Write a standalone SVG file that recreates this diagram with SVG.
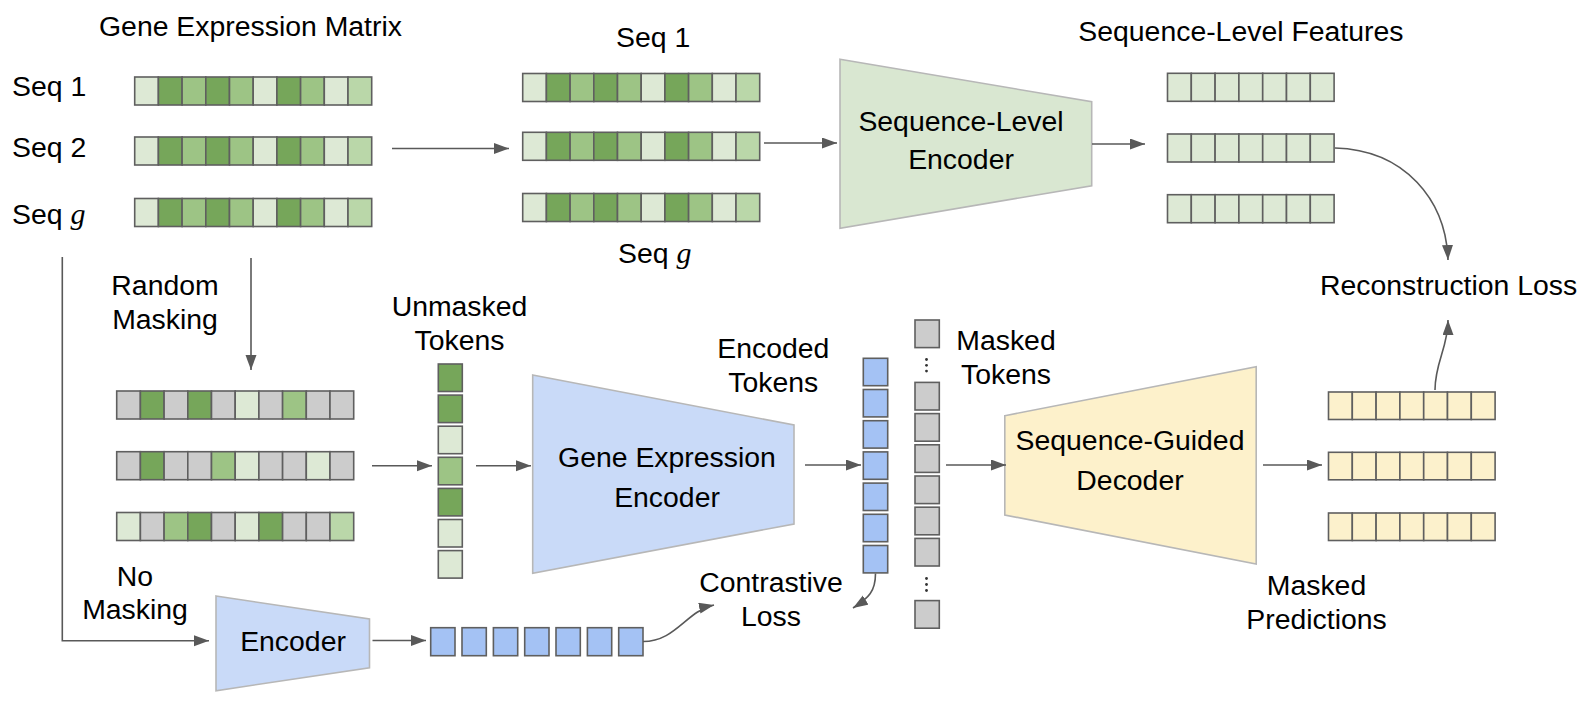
<svg xmlns="http://www.w3.org/2000/svg" width="1592" height="706" viewBox="0 0 1592 706">
<style>
text{font-family:"Liberation Sans",Arial,sans-serif;font-size:28.4px;fill:#000}
.m{text-anchor:middle}
.it{font-family:"Liberation Serif","Times New Roman",serif;font-style:italic;font-size:30px}
.cell rect{stroke:#5f5f5f;stroke-width:1.6}
.L{fill:#dde9d5}.M{fill:#9dc485}.D{fill:#76a65a}.X{fill:#bad7a9}.G{fill:#cccccc}.B{fill:#a4c2f4}.Y{fill:#fcf1cc}.F{fill:#dde9d5}
.trap{stroke:#b7b7b7;stroke-width:1.6}
.con{fill:none;stroke:#595959;stroke-width:1.6}
.dot{fill:#333}
</style>
<defs>
<marker id="ah" markerUnits="userSpaceOnUse" markerWidth="16" markerHeight="12" refX="15" refY="5.5" orient="auto">
<path d="M0,0 L15,5.5 L0,11 z" fill="#595959"/>
</marker>
<g id="row10" class="cell">
<rect class="L" x="0" y="0" width="23.7" height="28"/><rect class="D" x="23.7" y="0" width="23.7" height="28"/><rect class="M" x="47.4" y="0" width="23.7" height="28"/><rect class="D" x="71.1" y="0" width="23.7" height="28"/><rect class="M" x="94.8" y="0" width="23.7" height="28"/><rect class="L" x="118.5" y="0" width="23.7" height="28"/><rect class="D" x="142.2" y="0" width="23.7" height="28"/><rect class="M" x="165.9" y="0" width="23.7" height="28"/><rect class="L" x="189.6" y="0" width="23.7" height="28"/><rect class="X" x="213.3" y="0" width="23.7" height="28"/>
</g>
<g id="featrow" class="cell">
<rect class="F" x="0" y="0" width="23.8" height="28"/><rect class="F" x="23.8" y="0" width="23.8" height="28"/><rect class="F" x="47.6" y="0" width="23.8" height="28"/><rect class="F" x="71.4" y="0" width="23.8" height="28"/><rect class="F" x="95.2" y="0" width="23.8" height="28"/><rect class="F" x="119" y="0" width="23.8" height="28"/><rect class="F" x="142.8" y="0" width="23.8" height="28"/>
</g>
<g id="predrow" class="cell">
<rect class="Y" x="0" y="0" width="23.8" height="27.5"/><rect class="Y" x="23.8" y="0" width="23.8" height="27.5"/><rect class="Y" x="47.6" y="0" width="23.8" height="27.5"/><rect class="Y" x="71.4" y="0" width="23.8" height="27.5"/><rect class="Y" x="95.2" y="0" width="23.8" height="27.5"/><rect class="Y" x="119" y="0" width="23.8" height="27.5"/><rect class="Y" x="142.8" y="0" width="23.8" height="27.5"/>
</g>
</defs>

<g id="gene-matrix">
<text x="250.5" y="36" class="m">Gene Expression Matrix</text>
<text x="12" y="96">Seq 1</text>
<text x="12" y="157">Seq 2</text>
<text x="12" y="224">Seq <tspan class="it">g</tspan></text>
<use href="#row10" x="134.7" y="77"/>
<use href="#row10" x="134.7" y="137"/>
<use href="#row10" x="134.7" y="198.5"/>
</g>

<g id="seq-matrix">
<text x="616" y="47">Seq 1</text>
<use href="#row10" x="522.7" y="73.5"/>
<use href="#row10" x="522.7" y="132.3"/>
<use href="#row10" x="522.7" y="193.5"/>
<text x="618" y="263">Seq <tspan class="it">g</tspan></text>
</g>

<g id="seq-level-encoder">
<polygon class="trap" points="840,59.3 1091.7,101.7 1091.7,185.7 840,228.3" fill="#d9e7d1"/>
<text x="961" y="130.7" class="m">Sequence-Level</text>
<text x="961" y="169" class="m">Encoder</text>
</g>

<g id="seq-features">
<text x="1078.3" y="41">Sequence-Level Features</text>
<use href="#featrow" x="1167.5" y="73.3"/>
<use href="#featrow" x="1167.5" y="134"/>
<use href="#featrow" x="1167.5" y="194.7"/>
</g>

<g id="reconstruction-loss">
<text x="1320" y="295">Reconstruction Loss</text>
</g>

<g id="random-masking">
<text x="165" y="295" class="m">Random</text>
<text x="165" y="329" class="m">Masking</text>
</g>

<g id="masked-matrix" class="cell">
<rect class="G" x="116.7" y="391" width="23.7" height="28"/><rect class="D" x="140.4" y="391" width="23.7" height="28"/><rect class="G" x="164.1" y="391" width="23.7" height="28"/><rect class="D" x="187.8" y="391" width="23.7" height="28"/><rect class="G" x="211.5" y="391" width="23.7" height="28"/><rect class="L" x="235.2" y="391" width="23.7" height="28"/><rect class="G" x="258.9" y="391" width="23.7" height="28"/><rect class="M" x="282.6" y="391" width="23.7" height="28"/><rect class="G" x="306.3" y="391" width="23.7" height="28"/><rect class="G" x="330" y="391" width="23.7" height="28"/>
<rect class="G" x="116.7" y="451.7" width="23.7" height="28"/><rect class="D" x="140.4" y="451.7" width="23.7" height="28"/><rect class="G" x="164.1" y="451.7" width="23.7" height="28"/><rect class="G" x="187.8" y="451.7" width="23.7" height="28"/><rect class="M" x="211.5" y="451.7" width="23.7" height="28"/><rect class="L" x="235.2" y="451.7" width="23.7" height="28"/><rect class="G" x="258.9" y="451.7" width="23.7" height="28"/><rect class="G" x="282.6" y="451.7" width="23.7" height="28"/><rect class="L" x="306.3" y="451.7" width="23.7" height="28"/><rect class="G" x="330" y="451.7" width="23.7" height="28"/>
<rect class="L" x="116.7" y="512.5" width="23.7" height="28"/><rect class="G" x="140.4" y="512.5" width="23.7" height="28"/><rect class="M" x="164.1" y="512.5" width="23.7" height="28"/><rect class="D" x="187.8" y="512.5" width="23.7" height="28"/><rect class="G" x="211.5" y="512.5" width="23.7" height="28"/><rect class="L" x="235.2" y="512.5" width="23.7" height="28"/><rect class="D" x="258.9" y="512.5" width="23.7" height="28"/><rect class="G" x="282.6" y="512.5" width="23.7" height="28"/><rect class="G" x="306.3" y="512.5" width="23.7" height="28"/><rect class="X" x="330" y="512.5" width="23.7" height="28"/>
</g>

<g id="unmasked-tokens">
<text x="459.5" y="316" class="m">Unmasked</text>
<text x="459.5" y="350" class="m">Tokens</text>
<g class="cell">
<rect class="D" x="438.3" y="364" width="24" height="27.5"/>
<rect class="D" x="438.3" y="395.1" width="24" height="27.5"/>
<rect class="L" x="438.3" y="426.2" width="24" height="27.5"/>
<rect class="M" x="438.3" y="457.3" width="24" height="27.5"/>
<rect class="D" x="438.3" y="488.4" width="24" height="27.5"/>
<rect class="L" x="438.3" y="519.5" width="24" height="27.5"/>
<rect class="L" x="438.3" y="550.6" width="24" height="27.5"/>
</g>
</g>

<g id="gene-expression-encoder">
<polygon class="trap" points="532.7,375 794,425 794,524 532.7,573.3" fill="#c9daf8"/>
<text x="667" y="467.3" class="m">Gene Expression</text>
<text x="667" y="506.7" class="m">Encoder</text>
</g>

<g id="encoded-tokens">
<text x="773.3" y="357.7" class="m">Encoded</text>
<text x="773.3" y="391.7" class="m">Tokens</text>
<g class="cell">
<rect class="B" x="863.3" y="358.3" width="24.4" height="27.4"/>
<rect class="B" x="863.3" y="389.5" width="24.4" height="27.4"/>
<rect class="B" x="863.3" y="420.7" width="24.4" height="27.4"/>
<rect class="B" x="863.3" y="451.9" width="24.4" height="27.4"/>
<rect class="B" x="863.3" y="483.1" width="24.4" height="27.4"/>
<rect class="B" x="863.3" y="514.3" width="24.4" height="27.4"/>
<rect class="B" x="863.3" y="545.5" width="24.4" height="27.4"/>
</g>
</g>

<g id="masked-tokens">
<text x="1006" y="350" class="m">Masked</text>
<text x="1006" y="383.5" class="m">Tokens</text>
<g class="cell">
<rect class="G" x="915" y="320" width="24.3" height="27.6"/>
<rect class="G" x="915" y="382.4" width="24.3" height="27.6"/>
<rect class="G" x="915" y="413.6" width="24.3" height="27.6"/>
<rect class="G" x="915" y="444.8" width="24.3" height="27.6"/>
<rect class="G" x="915" y="476" width="24.3" height="27.6"/>
<rect class="G" x="915" y="507.2" width="24.3" height="27.6"/>
<rect class="G" x="915" y="538.4" width="24.3" height="27.6"/>
<rect class="G" x="915" y="600.6" width="24.3" height="27.6"/>
</g>
<circle class="dot" cx="926.5" cy="359.5" r="1.4"/><circle class="dot" cx="926.5" cy="365.3" r="1.4"/><circle class="dot" cx="926.5" cy="371.1" r="1.4"/>
<circle class="dot" cx="926.5" cy="578.5" r="1.4"/><circle class="dot" cx="926.5" cy="584.5" r="1.4"/><circle class="dot" cx="926.5" cy="590.5" r="1.4"/>
</g>

<g id="sequence-guided-decoder">
<polygon class="trap" points="1004.8,415.7 1256.2,366.7 1256.2,564 1004.8,515" fill="#fdf1cb"/>
<text x="1130" y="450" class="m">Sequence-Guided</text>
<text x="1130" y="490" class="m">Decoder</text>
</g>

<g id="masked-predictions">
<use href="#predrow" x="1328.5" y="392"/>
<use href="#predrow" x="1328.5" y="452.3"/>
<use href="#predrow" x="1328.5" y="513"/>
<text x="1316.5" y="595" class="m">Masked</text>
<text x="1316.5" y="629" class="m">Predictions</text>
</g>

<g id="contrastive-loss">
<text x="771" y="591.7" class="m">Contrastive</text>
<text x="771" y="625.7" class="m">Loss</text>
</g>

<g id="no-masking">
<text x="135" y="585.7" class="m">No</text>
<text x="135" y="619" class="m">Masking</text>
</g>

<g id="small-encoder">
<polygon class="trap" points="216,596 369.5,619 369.5,667.7 216,690.7" fill="#c9daf8"/>
<text x="293" y="651" class="m">Encoder</text>
</g>

<g id="encoder-output" class="cell">
<rect class="B" x="430.7" y="627.7" width="24.3" height="28"/>
<rect class="B" x="462" y="627.7" width="24.3" height="28"/>
<rect class="B" x="493.4" y="627.7" width="24.3" height="28"/>
<rect class="B" x="524.7" y="627.7" width="24.3" height="28"/>
<rect class="B" x="556" y="627.7" width="24.3" height="28"/>
<rect class="B" x="587.4" y="627.7" width="24.3" height="28"/>
<rect class="B" x="618.7" y="627.7" width="24.3" height="28"/>
</g>

<g id="connectors">
<path class="con" marker-end="url(#ah)" d="M392,148.5 L509,148.5"/>
<path class="con" marker-end="url(#ah)" d="M764,143 L837,143"/>
<path class="con" marker-end="url(#ah)" d="M1092,144 L1145,144"/>
<path class="con" marker-end="url(#ah)" d="M1335,148 C1405,150 1446,200 1448,260"/>
<path class="con" marker-end="url(#ah)" d="M251,258 L251,370"/>
<path class="con" marker-end="url(#ah)" d="M372,465.7 L432,465.7"/>
<path class="con" marker-end="url(#ah)" d="M476,465.7 L531,465.7"/>
<path class="con" marker-end="url(#ah)" d="M805,465 L861,465"/>
<path class="con" marker-end="url(#ah)" d="M946,465 L1006,465"/>
<path class="con" marker-end="url(#ah)" d="M1263,465 L1322,465"/>
<path class="con" marker-end="url(#ah)" d="M1435,390 C1435,362 1448,348 1448,320"/>
<path class="con" marker-end="url(#ah)" d="M62.3,257 L62.3,640.7 L209,640.7"/>
<path class="con" marker-end="url(#ah)" d="M372.5,640.5 L426,640.5"/>
<path class="con" marker-end="url(#ah)" d="M643,641.5 C676,641.5 686,611 714,605"/>
<path class="con" marker-end="url(#ah)" d="M875.5,573.5 C875.5,591 869,598 853,608"/>
</g>
</svg>
